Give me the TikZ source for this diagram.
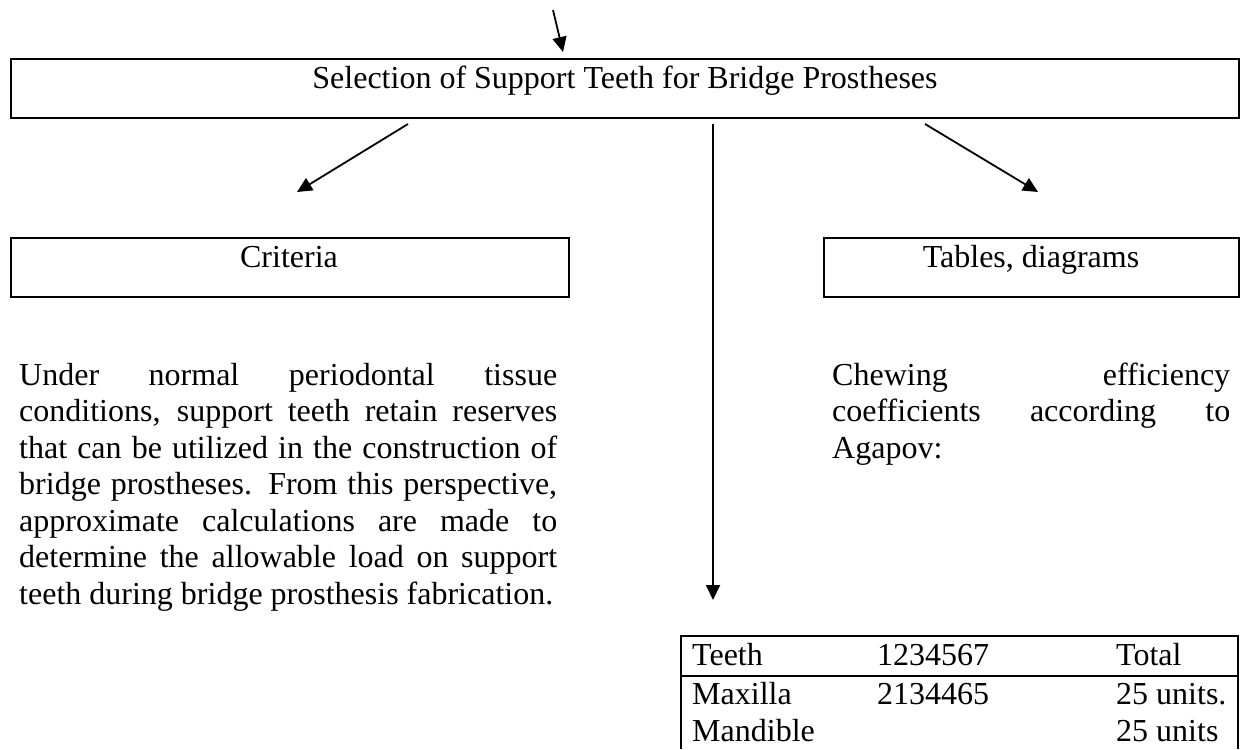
\documentclass[tikz,border=0pt]{standalone}
\usepackage{fontspec}
\setmainfont{Liberation Serif}
\usetikzlibrary{arrows.meta}
\begin{document}
\begin{tikzpicture}[x=1pt,y=-1pt,
  box/.style={draw,line width=1.9pt,inner sep=0pt,anchor=north west},
  arr/.style={line width=1.8pt,-{Triangle[length=15pt,width=14pt]}},
  tbl/.style={line width=1.7pt},
  txt/.style={inner sep=0pt,font=\fontsize{32}{36.5}\selectfont}]
\useasboundingbox (0,0) rectangle (1241,749);
% boxes
\node[box,minimum width=1228pt,minimum height=59pt] (main) at (10,58) {};
\node[txt,anchor=base] (maintxt) at (625,88.5) {Selection of Support Teeth for Bridge Prostheses};
\node[box,minimum width=558pt,minimum height=59pt] (crit) at (10,237) {};
\node[txt,anchor=base] (crittxt) at (289,267) {Criteria};
\node[box,minimum width=415pt,minimum height=59pt] (tab) at (823,237) {};
\node[txt,anchor=base] (tabtxt) at (1031,267) {Tables, diagrams};
% arrows
\coordinate (t1) at (553,10);
\coordinate (t2) at (563,52);
\draw[arr] (t1) -- (t2);
\coordinate (l1) at (408,124);
\coordinate (l2) at (297,192);
\draw[arr] (l1) -- (l2);
\coordinate (r1) at (925,124);
\coordinate (r2) at (1038,192);
\draw[arr] (r1) -- (r2);
\coordinate (v1) at (713,124);
\coordinate (v2) at (713,600);
\draw[arr] (v1) -- (v2);
% left paragraph
\node[txt,anchor=base west] (p1) at (19,385) {\makebox[538pt][s]{Under normal periodontal tissue}};
\node[txt,anchor=base west] (p2) at (19,421.5) {\makebox[538pt][s]{conditions, support teeth retain reserves}};
\node[txt,anchor=base west] (p3) at (19,458) {\makebox[538pt][s]{that can be utilized in the construction of}};
\node[txt,anchor=base west] (p4) at (19,494.5) {\makebox[538pt][s]{bridge prostheses. From this perspective,}};
\node[txt,anchor=base west] (p5) at (19,531) {\makebox[538pt][s]{approximate calculations are made to}};
\node[txt,anchor=base west] (p6) at (19,567.5) {\makebox[538pt][s]{determine the allowable load on support}};
\node[txt,anchor=base west] (p7) at (19,604) {teeth during bridge prosthesis fabrication.};
% right paragraph
\node[txt,anchor=base west] (c1) at (832,385) {\makebox[398pt][s]{Chewing efficiency}};
\node[txt,anchor=base west] (c2) at (832,421.5) {\makebox[398pt][s]{coefficients according to}};
\node[txt,anchor=base west] (c3) at (832,458) {Agapov:};
% table
\coordinate (tbl) at (681,749);
\coordinate (tbr) at (1238,749);
\coordinate (ttl) at (681,636);
\coordinate (ttr) at (1238,636);
\coordinate (tml) at (681,676);
\coordinate (tmr) at (1238,676);
\draw[tbl] (tbl) -- (ttl) -- (ttr) -- (tbr);
\draw[tbl] (tml) -- (tmr);
\node[txt,anchor=base west] (a1) at (692,665) {Teeth};
\node[txt,anchor=base west] (a2) at (877,665) {1234567};
\node[txt,anchor=base west] (a3) at (1116,665) {Total};
\node[txt,anchor=base west] (b1) at (692,704) {Maxilla};
\node[txt,anchor=base west] (b2) at (877,704) {2134465};
\node[txt,anchor=base west] (b3) at (1116,704) {25 units.};
\node[txt,anchor=base west] (d1) at (692,741) {Mandible};
\node[txt,anchor=base west] (d3) at (1116,741) {25 units};
\end{tikzpicture}
\end{document}
